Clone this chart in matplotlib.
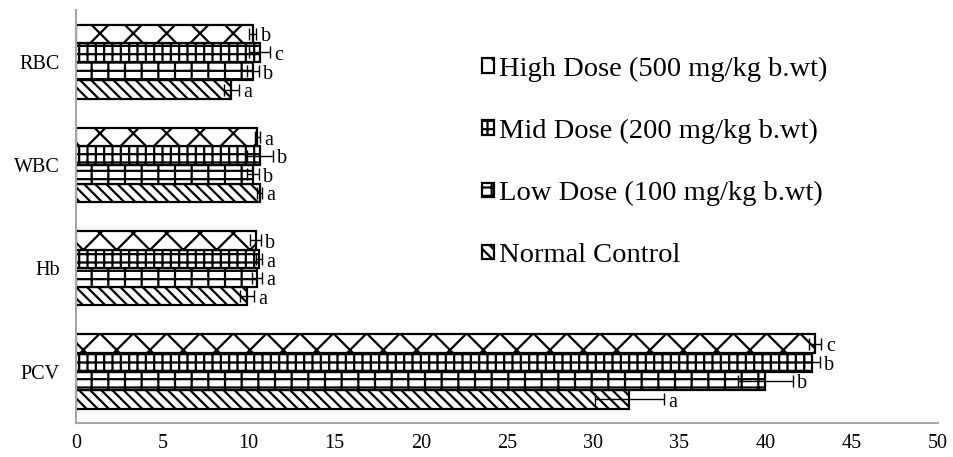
import matplotlib.pyplot as plt
import numpy as np

plt.rcParams['font.family'] = ['Liberation Serif', 'DejaVu Serif']
plt.rcParams['hatch.linewidth'] = 1.6

categories = ['PCV', 'Hb', 'WBC', 'RBC']
series = ['Normal Control', 'Low Dose (100 mg/kg b.wt)',
          'Mid Dose (200 mg/kg b.wt)', 'High Dose (500 mg/kg b.wt)']

normal = [32.1, 9.9, 10.65, 9.0]
low = [40.0, 10.5, 10.25, 10.25]
mid = [42.7, 10.6, 10.65, 10.65]
high = [42.9, 10.4, 10.5, 10.25]

normal_err = [2.0, 0.4, 0.15, 0.45]
low_err = [1.6, 0.3, 0.35, 0.35]
mid_err = [0.45, 0.2, 0.75, 0.6]
high_err = [0.35, 0.3, 0.15, 0.2]

normal_sig = ['a', 'a', 'a', 'a']
low_sig = ['b', 'a', 'b', 'b']
mid_sig = ['b', 'a', 'b', 'c']
high_sig = ['c', 'b', 'a', 'b']

values = [normal, low, mid, high]
errors = [normal_err, low_err, mid_err, high_err]
sigs = [normal_sig, low_sig, mid_sig, high_sig]
hatches = ['\\\\\\', '--|', '--||', 'x']

fig, ax = plt.subplots(figsize=(9.54, 4.57), dpi=100)
fig.subplots_adjust(left=0.08, right=0.983, top=0.978, bottom=0.074)

y = np.arange(len(categories))
h = 0.18
offsets = [-1.5 * h, -0.5 * h, 0.5 * h, 1.5 * h]

for i in range(4):
    ax.barh(y + offsets[i], values[i], h, color='white', edgecolor='black',
            hatch=hatches[i], linewidth=1.6, label=series[i])
    ax.errorbar(values[i], y + offsets[i], xerr=errors[i], fmt='none',
                ecolor='black', elinewidth=1, capsize=4, capthick=1)
    for j in range(len(categories)):
        ax.text(values[i][j] + errors[i][j] + 0.25, y[j] + offsets[i] - 0.03,
                sigs[i][j], ha='left', va='center', fontsize=14.5)

ax.set_xlim(0, 50)
ax.set_ylim(-0.5, 3.5)
ax.set_xticks(np.arange(0, 51, 5))
ax.set_yticks(y)
ax.set_yticklabels(categories)
ax.tick_params(axis='both', length=0, labelsize=14.5)
ax.tick_params(axis='y', pad=12)
ax.tick_params(axis='x', pad=8)

for s in ['top', 'right']:
    ax.spines[s].set_visible(False)
for s in ['left', 'bottom']:
    ax.spines[s].set_color('#a6a6a6')
    ax.spines[s].set_linewidth(1.5)

handles, labels = ax.get_legend_handles_labels()
ax.legend(handles[::-1], labels[::-1], loc='upper left',
          bbox_to_anchor=(0.505, 0.876), bbox_transform=fig.transFigure,
          frameon=False, fontsize=20.5, borderpad=0, borderaxespad=0,
          handlelength=0.42, handleheight=0.42, handletextpad=0.2,
          labelspacing=1.3)

plt.savefig('out.png', dpi=100)
